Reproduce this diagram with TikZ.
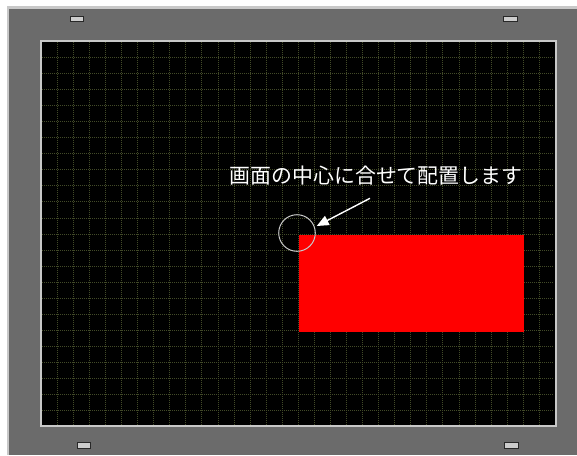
\documentclass[tikz,border=0pt]{standalone}
\usepackage{fontspec}
\newfontfamily\cjk{Noto Sans CJK JP}
\usetikzlibrary{arrows.meta}
\definecolor{framegray}{RGB}{107,107,107}
\definecolor{edgegray}{RGB}{200,200,200}
\definecolor{gridcol}{RGB}{66,74,40}
\definecolor{tabfill}{RGB}{205,205,205}
\definecolor{tabline}{RGB}{40,40,40}
\tikzset{
  tab/.style={draw=tabline, fill=tabfill, line width=1pt},
  gridline/.style={gridcol, line width=1pt, dash pattern=on 1pt off 1pt},
  label/.style={font=\cjk\fontsize{20.9pt}{24pt}\selectfont, text=white, inner sep=0pt},
  pointer/.style={white, line width=1.4pt, -{Triangle[length=12pt,width=10pt]}},
}
\begin{document}
\begin{tikzpicture}[x=1pt,y=-1pt]
\useasboundingbox (0,0) rectangle (577,455);
\fill[white] (0,0) rectangle (577,455);
% frame
\fill[edgegray] (6.5,5.5) rectangle (577,455);
\fill[framegray] (9,8.5) rectangle (577,455);
% screen
\fill[edgegray] (39.5,39.5) rectangle (556.5,427);
\fill[black] (41.5,41.5) rectangle (554.5,425);
% grid
\foreach \k in {0,...,30} {
  \draw[gridline] ({57.3+16.07*\k},42) -- ({57.3+16.07*\k},425);
}
\foreach \k in {0,...,22} {
  \draw[gridline] (42,{57.3+16.07*\k}) -- (554,{57.3+16.07*\k});
}
% tabs
\draw[tab] (70,16.8) rectangle (83.5,21.5);
\draw[tab] (503.5,16.8) rectangle (517.3,21.5);
\draw[tab] (77,442.8) rectangle (90.3,448);
\draw[tab] (504.5,442.8) rectangle (518.5,448);
% content
\node[fill=red, inner sep=0pt, minimum width=224.3pt, minimum height=97.7pt, anchor=north west] (redbox) at (299,234.3) {};
\node[draw=edgegray, line width=1pt, circle, inner sep=0pt, minimum size=36.6pt] (marker) at (297,233) {};
\node[label] (caption) at (376,175.5) {画面の中心に合せて配置します};
\coordinate (tail) at (370,198.3);
\coordinate (tip) at (316.7,226);
\draw[pointer] (tail) -- (tip);
\end{tikzpicture}
\end{document}
